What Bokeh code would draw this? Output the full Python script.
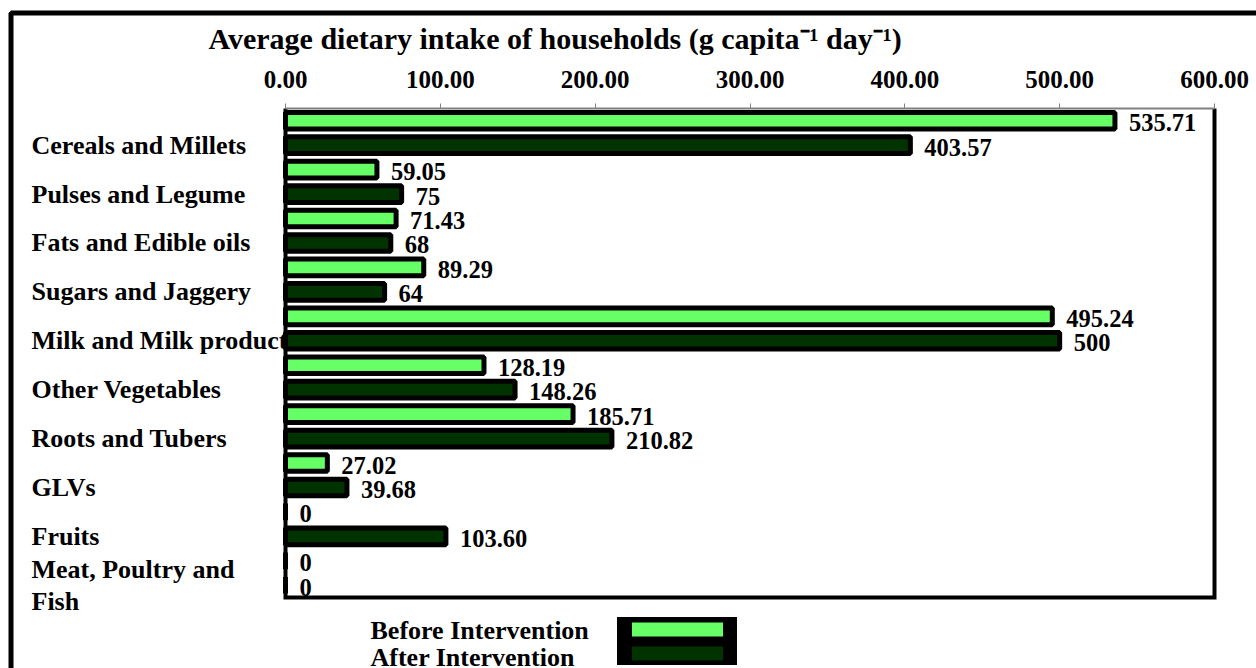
from bokeh.plotting import figure
from bokeh.models import (ColumnDataSource, Range1d, FixedTicker, NumeralTickFormatter,
                          LinearAxis, Label, Legend, LegendItem, BoxAnnotation)
from bokeh.core.properties import value
from bokeh.embed import file_html
from bokeh.resources import INLINE

# ---- data ----
categories = ["Cereals and Millets", "Pulses and Legume", "Fats and Edible oils",
              "Sugars and Jaggery", "Milk and Milk products", "Other Vegetables",
              "Roots and Tubers", "GLVs", "Fruits", "Meat, Poultry and Fish"]
series = ["Before Intervention", "After Intervention"]
before = [535.71, 59.05, 71.43, 89.29, 495.24, 128.19, 185.71, 27.02, 0, 0]
after = [403.57, 75, 68, 64, 500, 148.26, 210.82, 39.68, 103.60, 0]
before_labels = ["535.71", "59.05", "71.43", "89.29", "495.24", "128.19", "185.71", "27.02", "0", "0"]
after_labels = ["403.57", "75", "68", "64", "500", "148.26", "210.82", "39.68", "103.60", "0"]
x_ticks = [0, 100, 200, 300, 400, 500, 600]
colors = ["#66FF66", "#003300"]
title_text = "Average dietary intake of households (g capita\u207b\u00b9 day\u207b\u00b9)"
wrapped = {"Meat, Poultry and Fish": "Meat, Poultry and\nFish"}

FONT = "Liberation Serif"

# ---- layout (pixels) ----
W, H = 1256, 668
PLOT_L, PLOT_R, PLOT_T, PLOT_B = 285, 1214, 108, 597

n = len(categories)
xmin, xmax = x_ticks[0], x_ticks[-1]
xpp = (xmax - xmin) / (PLOT_R - PLOT_L)
ypp = n / (PLOT_B - PLOT_T)
x_range = Range1d(xmin - PLOT_L * xpp, xmax + (W - PLOT_R) * xpp)
y_range = Range1d(n + (H - PLOT_B) * ypp, 0 - PLOT_T * ypp)   # category 0 at the top

p = figure(width=W, height=H, x_range=x_range, y_range=y_range,
           x_axis_location=None, y_axis_location=None,
           toolbar_location=None, output_backend="svg", min_border=0)
p.outline_line_color = None
p.grid.visible = False
p.background_fill_color = "white"
p.border_fill_color = "white"

offsets = [0.25, 0.75]

# category labels (drawn first so the bars cover any overflow)
cat_src = ColumnDataSource(dict(x=[xmin] * n, y=[i + offsets[1] for i in range(n)],
                                t=[wrapped.get(c, c) for c in categories]))
p.text(x="x", y="y", text="t", source=cat_src, x_offset=-254,
       text_font=value(FONT), text_font_style="bold", text_font_size="26px",
       text_align="left", text_baseline="middle", text_color="black",
       text_line_height=1.1)

renderers = []
for k, (s, vals, labs, col) in enumerate(zip(series, [before, after],
                                              [before_labels, after_labels], colors)):
    src = ColumnDataSource(dict(y=[i + offsets[k] for i in range(n)], v=vals, t=labs))
    r = p.hbar(y="y", left=xmin, right="v", height=0.34, source=src,
               fill_color=col, line_color="black", line_width=5)
    p.text(x="v", y="y", text="t", source=src, x_offset=14, y_offset=2,
           text_font=value(FONT), text_font_style="bold", text_font_size="24.5px",
           text_align="left", text_baseline="middle", text_color="black")
    renderers.append(r)

# plot-area border (left, bottom, right)
p.line(x=[xmin, xmin, xmax, xmax], y=[0, n, n, 0], line_color="black",
       line_width=4, line_join="miter")

# x axis across the top of the bar area
ax = LinearAxis(fixed_location=0, bounds=(xmin, xmax),
                ticker=FixedTicker(ticks=x_ticks),
                formatter=NumeralTickFormatter(format="0.00"))
ax.major_label_text_font = FONT
ax.major_label_text_font_style = "bold"
ax.major_label_text_font_size = "25px"
ax.major_label_text_color = "black"
ax.axis_line_color = "#808080"
ax.axis_line_width = 2
ax.major_tick_line_color = "#808080"
ax.major_tick_out = 5
ax.major_tick_in = 0
ax.minor_tick_out = 0
ax.minor_tick_in = 0
ax.major_label_standoff = 16
p.add_layout(ax, "above")

# title
p.add_layout(Label(x=208, y=H - 38, x_units="screen", y_units="screen", text=title_text,
                   text_font=FONT, text_font_style="bold", text_font_size="30px",
                   text_baseline="middle", text_color="black"))

# legend: glyph block, with the names written to its left
legend = Legend(items=[LegendItem(label=value(""), renderers=[r]) for r in renderers],
                location=(617, H - 665), orientation="vertical",
                background_fill_color="black", background_fill_alpha=1,
                border_line_color=None, padding=0, margin=0, spacing=0,
                label_standoff=0, label_width=0, label_height=0,
                glyph_width=120, glyph_height=24)
p.add_layout(legend)
for s, yy in zip(series, [630, 657]):
    p.add_layout(Label(x=370, y=H - yy, x_units="screen", y_units="screen", text=s,
                       text_font=FONT, text_font_style="bold", text_font_size="26px",
                       text_baseline="middle", text_color="black"))

# outer chart border
p.add_layout(BoxAnnotation(left=10.5, right=W + 50, top=H - 12.5, bottom=-50,
                           left_units="screen", right_units="screen",
                           top_units="screen", bottom_units="screen",
                           fill_color=None, fill_alpha=0,
                           line_color="black", line_alpha=1, line_width=5,
                           level="overlay"))

open("out.html", "w").write(file_html(p, INLINE))
